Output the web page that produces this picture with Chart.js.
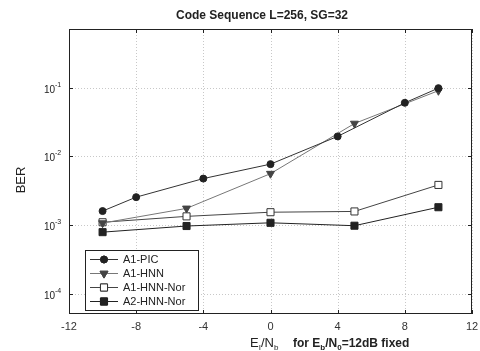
<!DOCTYPE html>
<html>
<head>
<meta charset="utf-8">
<script src="https://cdn.jsdelivr.net/npm/chart.js@4.4.1/dist/chart.umd.min.js"></script>
<style>
    body { margin: 0; background: #fff; }
</style>
</head>
<body>
<canvas id="berChart" width="480" height="351"></canvas>
<script>
var xTicks = [-12, -8, -4, 0, 4, 8, 12];
var yTicks = [1e-4, 1e-3, 1e-2, 1e-1];
var yTickExp = ["-4", "-3", "-2", "-1"];

var picX = [-10, -8, -4, 0, 4, 8, 10];
var picBer = [1.6e-3, 2.55e-3, 4.75e-3, 7.7e-3, 0.0195, 0.06, 0.098];

var hnnX = [-10, -5, 0, 5, 10];
var hnnBer = [1.07e-3, 1.75e-3, 5.6e-3, 0.030, 0.09];

var hnnNorX = [-10, -5, 0, 5, 10];
var hnnNorBer = [1.1e-3, 1.34e-3, 1.54e-3, 1.58e-3, 3.84e-3];

var a2NorX = [-10, -5, 0, 5, 10];
var a2NorBer = [7.9e-4, 9.7e-4, 1.08e-3, 9.8e-4, 1.82e-3];

function toPoints(xs, ys) {
    return xs.map(function (x, i) {
        return { x: x, y: ys[i] };
    });
}

var FONT = "'Liberation Sans', Arial, sans-serif";

// grid, frame and inward ticks on all four sides
var framePlugin = {
    id: "frame",
    beforeDatasetsDraw: function (chart) {
        var ctx = chart.ctx;
        var a = chart.chartArea;
        var xs = chart.scales.x;
        var ys = chart.scales.y;
        ctx.save();
        ctx.strokeStyle = "#c8c8c8";
        ctx.lineWidth = 1;
        ctx.setLineDash([1, 2]);
        xTicks.forEach(function (t) {
            var px = Math.round(xs.getPixelForValue(t)) + 0.5;
            ctx.beginPath();
            ctx.moveTo(px, a.top);
            ctx.lineTo(px, a.bottom);
            ctx.stroke();
        });
        yTicks.forEach(function (t) {
            var py = Math.round(ys.getPixelForValue(t)) + 0.5;
            ctx.beginPath();
            ctx.moveTo(a.left, py);
            ctx.lineTo(a.right, py);
            ctx.stroke();
        });
        ctx.setLineDash([]);
        ctx.strokeStyle = "#222";
        ctx.strokeRect(a.left + 0.5, a.top + 0.5, a.right - a.left - 1, a.bottom - a.top - 1);
        ctx.beginPath();
        xTicks.forEach(function (t) {
            var px = Math.round(xs.getPixelForValue(t)) + 0.5;
            ctx.moveTo(px, a.bottom);
            ctx.lineTo(px, a.bottom - 4);
            ctx.moveTo(px, a.top);
            ctx.lineTo(px, a.top + 4);
        });
        yTicks.forEach(function (t) {
            var py = Math.round(ys.getPixelForValue(t)) + 0.5;
            ctx.moveTo(a.left, py);
            ctx.lineTo(a.left + 4, py);
            ctx.moveTo(a.right, py);
            ctx.lineTo(a.right - 4, py);
        });
        ctx.stroke();
        ctx.restore();
    },
    afterDraw: function (chart) {
        var ctx = chart.ctx;
        var xs = chart.scales.x;
        var ys = chart.scales.y;
        ctx.save();
        ctx.fillStyle = "#222";

        // title
        ctx.font = "bold 12px " + FONT;
        ctx.textAlign = "center";
        ctx.textBaseline = "alphabetic";
        ctx.fillText("Code Sequence L=256, SG=32", 262, 19);

        // x tick labels
        ctx.font = "11px " + FONT;
        ctx.fillStyle = "#333";
        xTicks.forEach(function (t) {
            ctx.fillText(String(t), xs.getPixelForValue(t), 330);
        });
        ctx.fillStyle = "#222";

        // y tick labels with superscripts
        yTicks.forEach(function (t, i) {
            var py = ys.getPixelForValue(t);
            ctx.textAlign = "right";
            ctx.font = "10px " + FONT;
            ctx.fillText("10", 55, py + 5);
            ctx.textAlign = "left";
            ctx.font = "7px " + FONT;
            ctx.fillText(yTickExp[i], 55, py - 1);
        });

        // y axis title
        ctx.save();
        ctx.translate(25, 180);
        ctx.rotate(-Math.PI / 2);
        ctx.textAlign = "center";
        ctx.font = "13px " + FONT;
        ctx.fillText("BER", 0, 0);
        ctx.restore();

        // x axis title with subscripts
        var partsA = [["E", "13px", 0], ["I", "8px", 3], ["/N", "13px", 0], ["b", "8px", 3]];
        var partsB = [
            ["for E", "bold 12px", 0], ["b", "bold 8px", 3], ["/N", "bold 12px", 0],
            ["0", "bold 8px", 3], ["=12dB fixed", "bold 12px", 0]
        ];
        ctx.textAlign = "left";
        var cx = 250;
        partsA.forEach(function (p) {
            ctx.font = p[1] + " " + FONT;
            ctx.fillText(p[0], cx, 347 + p[2]);
            cx += ctx.measureText(p[0]).width;
        });
        cx = 293;
        partsB.forEach(function (p) {
            ctx.font = p[1] + " " + FONT;
            ctx.fillText(p[0], cx, 347 + p[2]);
            cx += ctx.measureText(p[0]).width;
        });

        // legend box
        var lx = 85, ly = 250, lw = 113, lh = 60;
        ctx.fillStyle = "#fff";
        ctx.fillRect(lx, ly, lw, lh);
        ctx.strokeStyle = "#222";
        ctx.lineWidth = 1;
        ctx.strokeRect(lx + 0.5, ly + 0.5, lw, lh);
        chart.data.datasets.forEach(function (ds, i) {
            var ry = 259 + i * 14;
            ctx.strokeStyle = ds.borderColor;
            ctx.beginPath();
            ctx.moveTo(90, ry + 0.5);
            ctx.lineTo(118, ry + 0.5);
            ctx.stroke();
            Chart.helpers.drawPoint(ctx, {
                pointStyle: ds.pointStyle,
                rotation: ds.pointRotation || 0,
                radius: ds.pointRadius,
                borderWidth: 1
            }, 104, ry + 0.5);
            ctx.fillStyle = ds.pointBackgroundColor;
            ctx.strokeStyle = ds.pointBorderColor;
            ctx.fill();
            ctx.stroke();
            ctx.fillStyle = "#222";
            ctx.font = "11px " + FONT;
            ctx.textAlign = "left";
            ctx.fillText(ds.label, 123, ry + 4);
        });
        ctx.restore();
    }
};

var berCanvas = document.getElementById("berChart");

new Chart(berCanvas, {
    type: "line",
    data: {
        datasets: [
            {
                label: "A1-PIC",
                data: toPoints(picX, picBer),
                borderColor: "#333",
                borderWidth: 1,
                pointStyle: "circle",
                pointRadius: 3.5,
                pointBackgroundColor: "#222",
                pointBorderColor: "#222",
            },
            {
                label: "A1-HNN",
                data: toPoints(hnnX, hnnBer),
                borderColor: "#777",
                borderWidth: 1,
                pointStyle: "triangle",
                pointRotation: 180,
                pointRadius: 4.6,
                pointBackgroundColor: "#444",
                pointBorderColor: "#444",
            },
            {
                label: "A1-HNN-Nor",
                data: toPoints(hnnNorX, hnnNorBer),
                borderColor: "#444",
                borderWidth: 1,
                pointStyle: "rect",
                pointRadius: 5,
                pointBackgroundColor: "#fff",
                pointBorderColor: "#333",
            },
            {
                label: "A2-HNN-Nor",
                data: toPoints(a2NorX, a2NorBer),
                borderColor: "#222",
                borderWidth: 1,
                pointStyle: "rect",
                pointRadius: 5,
                pointBackgroundColor: "#222",
                pointBorderColor: "#222",
            },
        ],
    },
    options: {
        responsive: false,
        animation: false,
        layout: {
            padding: { left: 0, top: 29, right: 8, bottom: 0 },
        },
        plugins: {
            legend: { display: false },
            tooltip: { enabled: false },
        },
        scales: {
            x: {
                type: "linear",
                min: -12,
                max: 12,
                afterBuildTicks: function (scale) {
                    scale.ticks = xTicks.map(function (v) { return { value: v }; });
                },
                afterFit: function (scale) {
                    scale.height = 37;
                },
                grid: { display: false },
                border: { display: false },
                ticks: { display: false },
            },
            y: {
                type: "logarithmic",
                min: 5.1e-5,
                max: 0.71,
                afterBuildTicks: function (scale) {
                    scale.ticks = yTicks.map(function (v) { return { value: v }; });
                },
                afterFit: function (scale) {
                    scale.width = 69;
                },
                grid: { display: false },
                border: { display: false },
                ticks: { display: false },
            },
        },
    },
    plugins: [framePlugin],
});
</script>
</body>
</html>
